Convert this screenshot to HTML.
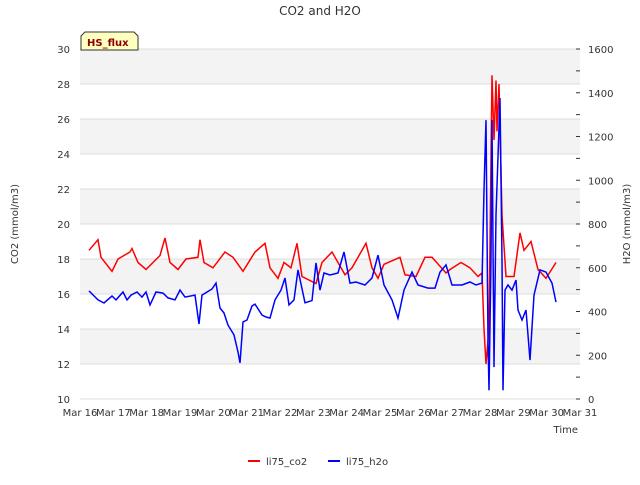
<!DOCTYPE html>
<html><head><meta charset="utf-8"><style>
body{margin:0;background:#fff;font-family:"Liberation Sans","DejaVu Sans",sans-serif}
svg text{font-family:"DejaVu Sans","Liberation Sans",sans-serif}
</style></head><body>
<svg id="c" width="640" height="480" xmlns="http://www.w3.org/2000/svg"></svg>
<script>
const dateLabels=["Mar 16","Mar 17","Mar 18","Mar 19","Mar 20","Mar 21","Mar 22","Mar 23","Mar 24","Mar 25","Mar 26","Mar 27","Mar 28","Mar 29","Mar 30","Mar 31"];
const co2Ticks=[10,12,14,16,18,20,22,24,26,28,30];
const h2oTicks=[0,200,400,600,800,1000,1200,1400,1600];
const co2Days=[.27,.54,.63,.96,1.14,1.5,1.56,1.74,1.98,2.4,2.55,2.7,2.94,3.18,3.54,3.6,3.72,3.99,4.35,4.59,4.89,5.25,5.55,5.7,5.94,6.12,6.33,6.51,6.66,7.08,7.26,7.56,7.95,8.16,8.58,8.76,8.94,9.12,9.6,9.75,10.08,10.35,10.56,10.98,11.1,11.43,11.7,11.94,12.06,12.12,12.18,12.27,12.36,12.42,12.48,12.51,12.57,12.66,12.78,13.02,13.2,13.32,13.53,13.74,13.98,14.28];
const co2Vals=[18.5,19.1,18.1,17.3,18,18.4,18.6,17.8,17.4,18.2,19.2,17.8,17.4,18,18.1,19.1,17.8,17.5,18.4,18.1,17.3,18.4,18.9,17.5,16.9,17.8,17.5,18.9,17,16.6,17.8,18.4,17.1,17.5,18.9,17.5,16.9,17.7,18.1,17.1,17,18.1,18.1,17.2,17.4,17.8,17.5,17,17.2,14,12,14,28.5,24.8,28.2,25.3,28,20.5,17,17,19.5,18.5,19,17.4,16.9,17.8];
const h2oDays=[.27,.54,.72,.96,1.08,1.29,1.41,1.53,1.71,1.86,1.98,2.1,2.28,2.49,2.64,2.85,3,3.15,3.45,3.57,3.66,3.96,4.08,4.2,4.32,4.44,4.62,4.74,4.8,4.89,5.01,5.16,5.25,5.46,5.58,5.7,5.85,6.03,6.15,6.27,6.42,6.54,6.75,6.96,7.08,7.2,7.32,7.5,7.74,7.92,8.1,8.28,8.55,8.76,8.94,9.12,9.36,9.54,9.72,9.96,10.14,10.44,10.65,10.8,10.98,11.16,11.46,11.7,11.88,12.06,12.12,12.18,12.24,12.27,12.33,12.36,12.42,12.48,12.6,12.66,12.69,12.75,12.84,12.96,13.08,13.14,13.26,13.38,13.5,13.62,13.8,13.98,14.16,14.28];
const h2oVals=[494,453,439,471,453,489,453,475,489,466,489,430,489,484,462,453,498,466,475,343,475,503,530,416,393,338,293,215,165,352,361,425,434,384,375,370,453,498,553,430,453,590,440,450,622,498,576,567,576,672,530,535,521,553,658,521,453,370,498,580,521,507,507,580,613,521,521,535,521,530,955,1275,270,40,635,1275,146,841,1376,635,40,498,521,498,544,407,361,407,178,475,590,580,530,443];
const svg=document.getElementById('c');const NS="http://www.w3.org/2000/svg";
const L=80,R=580,T=49,B=399;
const xS=d=>L+d*(R-L)/15, yL=v=>B-(v-10)*(B-T)/20, yR=v=>B-v*(B-T)/1600;
function mk(t,a,txt){const e=document.createElementNS(NS,t);for(const k in a)e.setAttribute(k,a[k]);if(txt!=null)e.textContent=txt;svg.appendChild(e);return e;}
let e;
e=mk('rect',{x:L,y:T,width:R-L,height:B-T,fill:'#fff'});


for(let i=1;i<co2Ticks.length-1;i+=2){
 e=mk('rect',{x:L,y:yL(co2Ticks[i+1]),width:R-L,height:yL(co2Ticks[i])-yL(co2Ticks[i+1]),fill:'#f3f3f3'});
 
 
}
co2Ticks.forEach(v=>{
 e=mk('line',{x1:L,x2:R,y1:yL(v),y2:yL(v),stroke:'#dcdcdc','stroke-width':1});
 
 
 e=mk('text',{x:L-10,y:yL(v)+4,'font-size':10,'text-anchor':'end',fill:'#333'},v);
 
 
});
h2oTicks.forEach(v=>{
 e=mk('text',{x:R+8,y:yR(v)+4,'font-size':10,fill:'#333'},v);
 
 
});
for(let v=0;v<=1600;v+=100){e=mk('line',{x1:R,x2:R-4,y1:yR(v),y2:yR(v),stroke:'#333'});
 
 }
dateLabels.forEach((s,i)=>{
 e=mk('text',{x:xS(i),y:B+17,'font-size':10,'text-anchor':'middle',fill:'#333'},s);
 
 
});
function line(days,vals,ys,col,name){
 const p=days.map((d,i)=>xS(d).toFixed(1)+','+ys(vals[i]).toFixed(1)).join(' ');
 const l=mk('polyline',{points:p,fill:'none',stroke:col,'stroke-width':1.5});
 
 
}
line(co2Days,co2Vals,yL,'#ff0000','li75-co2-line');
line(h2oDays,h2oVals,yR,'#0000ff','li75-h2o-line');
e=mk('text',{x:320,y:15,'font-size':12,'text-anchor':'middle',fill:'#333'},'CO2 and H2O');


e=mk('text',{x:18,y:224,'font-size':10,'text-anchor':'middle',fill:'#333',transform:'rotate(-90 18 224)'},'CO2 (mmol/m3)');


e=mk('text',{x:630,y:224,'font-size':10,'text-anchor':'middle',fill:'#333',transform:'rotate(-90 630 224)'},'H2O (mmol/m3)');


e=mk('text',{x:578,y:433,'font-size':10,'text-anchor':'end',fill:'#333'},'Time');


e=mk('path',{d:'M81,50 L81,36 L85,32 L134,32 L138,36 L138,50 Z',fill:'#ffffc0',stroke:'#333'});


e=mk('text',{x:87,y:46,'font-size':10,'font-weight':'bold',fill:'#8b0000'},'HS_flux');


e=mk('line',{x1:248,x2:260,y1:461,y2:461,stroke:'#ff0000','stroke-width':2});


e=mk('text',{x:266,y:465,'font-size':10,fill:'#333'},'li75_co2');


e=mk('line',{x1:328,x2:340,y1:461,y2:461,stroke:'#0000ff','stroke-width':2});


e=mk('text',{x:346,y:465,'font-size':10,fill:'#333'},'li75_h2o');


</script>
</body></html>
